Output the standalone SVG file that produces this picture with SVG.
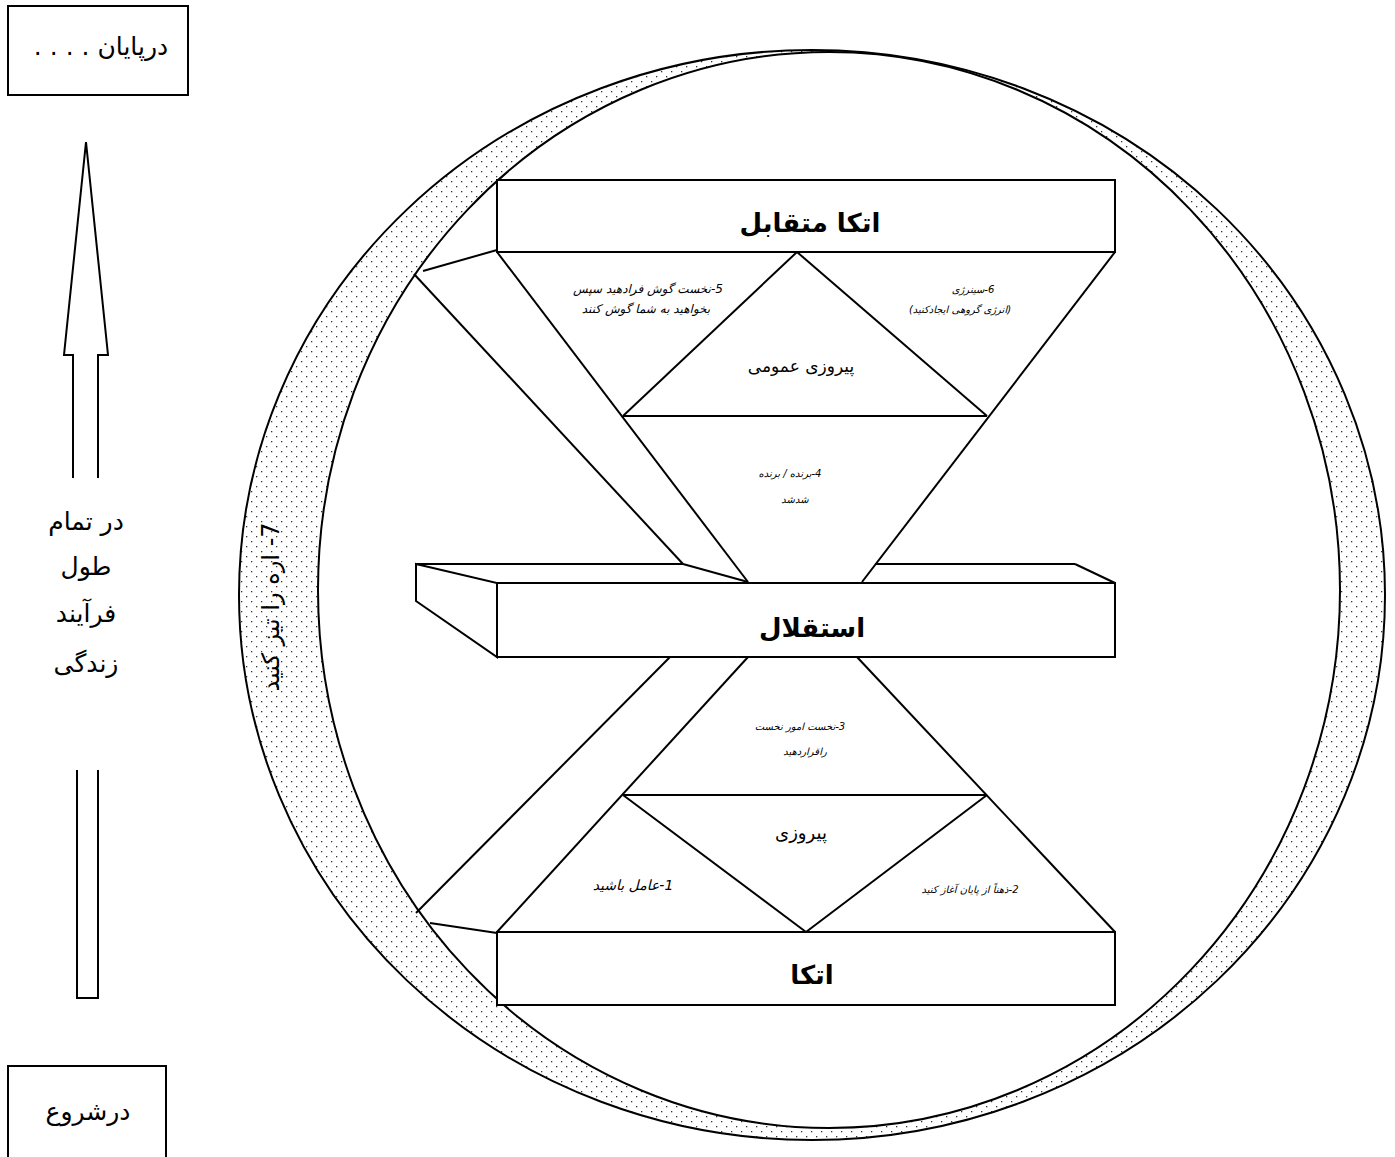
<svg xmlns="http://www.w3.org/2000/svg" width="1395" height="1157" viewBox="0 0 1395 1157">
<style>
.ln{stroke:#000;stroke-width:2;fill:none}
.bx{stroke:#000;stroke-width:2;fill:#fff}
.t{font-family:"DejaVu Sans",sans-serif;fill:#000;text-anchor:middle;direction:rtl;unicode-bidi:embed}
.h{font-size:26px;font-weight:bold}
.m{font-size:17px}
.s{font-size:10px;font-style:italic}
.l{font-size:25px}
</style>
<defs>
<pattern id="dots" width="10" height="10" patternUnits="userSpaceOnUse">
<rect x="1" y="1" width="1.3" height="1.3" fill="#333"/>
<rect x="6" y="6" width="1.3" height="1.3" fill="#333"/>
</pattern>
</defs>
<rect width="1395" height="1157" fill="#fff"/>
<g id="ring">
<ellipse cx="812" cy="595" rx="573" ry="545" fill="url(#dots)" stroke="#000" stroke-width="2"/>
<ellipse cx="829" cy="590" rx="511" ry="538" fill="#fff" stroke="#000" stroke-width="2"/>
<text class="t" style="font-size:24px" transform="translate(271,607) rotate(-90)" dy="8">7- اره را تیز کنید</text>
</g>
<g id="connectors">
<line class="ln" x1="423" y1="271" x2="497" y2="250"/>
<line class="ln" x1="414" y1="274" x2="683" y2="564"/>
<line class="ln" x1="416" y1="564" x2="683" y2="564"/>
<line class="ln" x1="683" y1="564" x2="748" y2="582"/>
<line class="ln" x1="497" y1="252" x2="748" y2="582"/>
<line class="ln" x1="1115" y1="252" x2="862" y2="582"/>
<line class="ln" x1="875" y1="564" x2="1075" y2="564"/>
<line class="ln" x1="1075" y1="564" x2="1115" y2="583"/>
<line class="ln" x1="623" y1="416" x2="987" y2="416"/>
<line class="ln" x1="623" y1="416" x2="797" y2="252"/>
<line class="ln" x1="797" y1="252" x2="987" y2="416"/>
<line class="ln" x1="670" y1="657" x2="416" y2="913"/>
<line class="ln" x1="748" y1="657" x2="497" y2="932"/>
<line class="ln" x1="857" y1="657" x2="1115" y2="932"/>
<line class="ln" x1="623" y1="795" x2="987" y2="795"/>
<line class="ln" x1="623" y1="795" x2="806" y2="932"/>
<line class="ln" x1="806" y1="932" x2="987" y2="795"/>
<line class="ln" x1="430" y1="923" x2="497" y2="933"/>
</g>
<g id="node-top">
<rect class="bx" x="497" y="180" width="618" height="72"/>
<text class="t h" x="810" y="232">اتکا متقابل</text>
</g>
<g id="node-mid">
<polygon class="bx" points="416,564 497,583 497,657 416,601"/>
<rect class="bx" x="497" y="583" width="618" height="74"/>
<text class="t h" x="812" y="637">استقلال</text>
</g>
<g id="node-bottom">
<rect class="bx" x="497" y="932" width="618" height="73"/>
<text class="t h" x="812" y="984">اتکا</text>
</g>
<g id="labels">
<text class="t m" x="801" y="372">پیروزی عمومی</text>
<text class="t s" x="648" y="293" style="font-size:12px">5-نخست گوش فرادهید سپس</text>
<text class="t s" x="646" y="313" style="font-size:12px">بخواهید به شما گوش کنند</text>
<text class="t s" x="973" y="293">6-سینرژی</text>
<text class="t s" x="960" y="313">(انرژی گروهی ایجادکنید)</text>
<text class="t s" x="790" y="477">4-برنده / برنده</text>
<text class="t s" x="795" y="503">شدشد</text>
<text class="t s" x="800" y="730">3-نخست امور نخست</text>
<text class="t s" x="805" y="755">راقراردهید</text>
<text class="t m" x="801" y="839" style="font-size:18px">پیروزی</text>
<text class="t s" x="633" y="890" style="font-size:14px">1-عامل باشید</text>
<text class="t s" x="970" y="893">2-ذهناً از پایان آغاز کنید</text>
</g>
<g id="node-end">
<rect class="bx" x="8" y="6" width="180" height="89"/>
<text class="t l" x="101" y="55">درپایان . . . .</text>
</g>
<g id="node-start">
<rect class="bx" x="8" y="1066" width="158" height="100"/>
<text class="t l" x="88" y="1120">درشروع</text>
</g>
<g id="arrow">
<path class="bx" d="M73,478 L73,355 L64,355 L86,142 L108,355 L98,355 L98,478"/>
<path class="bx" d="M77,770 L77,998 L98,998 L98,770"/>
</g>
<g id="side-label">
<text class="t l" x="86" y="530">در تمام</text>
<text class="t l" x="86" y="575">طول</text>
<text class="t l" x="86" y="622">فرآیند</text>
<text class="t l" x="86" y="672">زندگی</text>
</g>
</svg>
